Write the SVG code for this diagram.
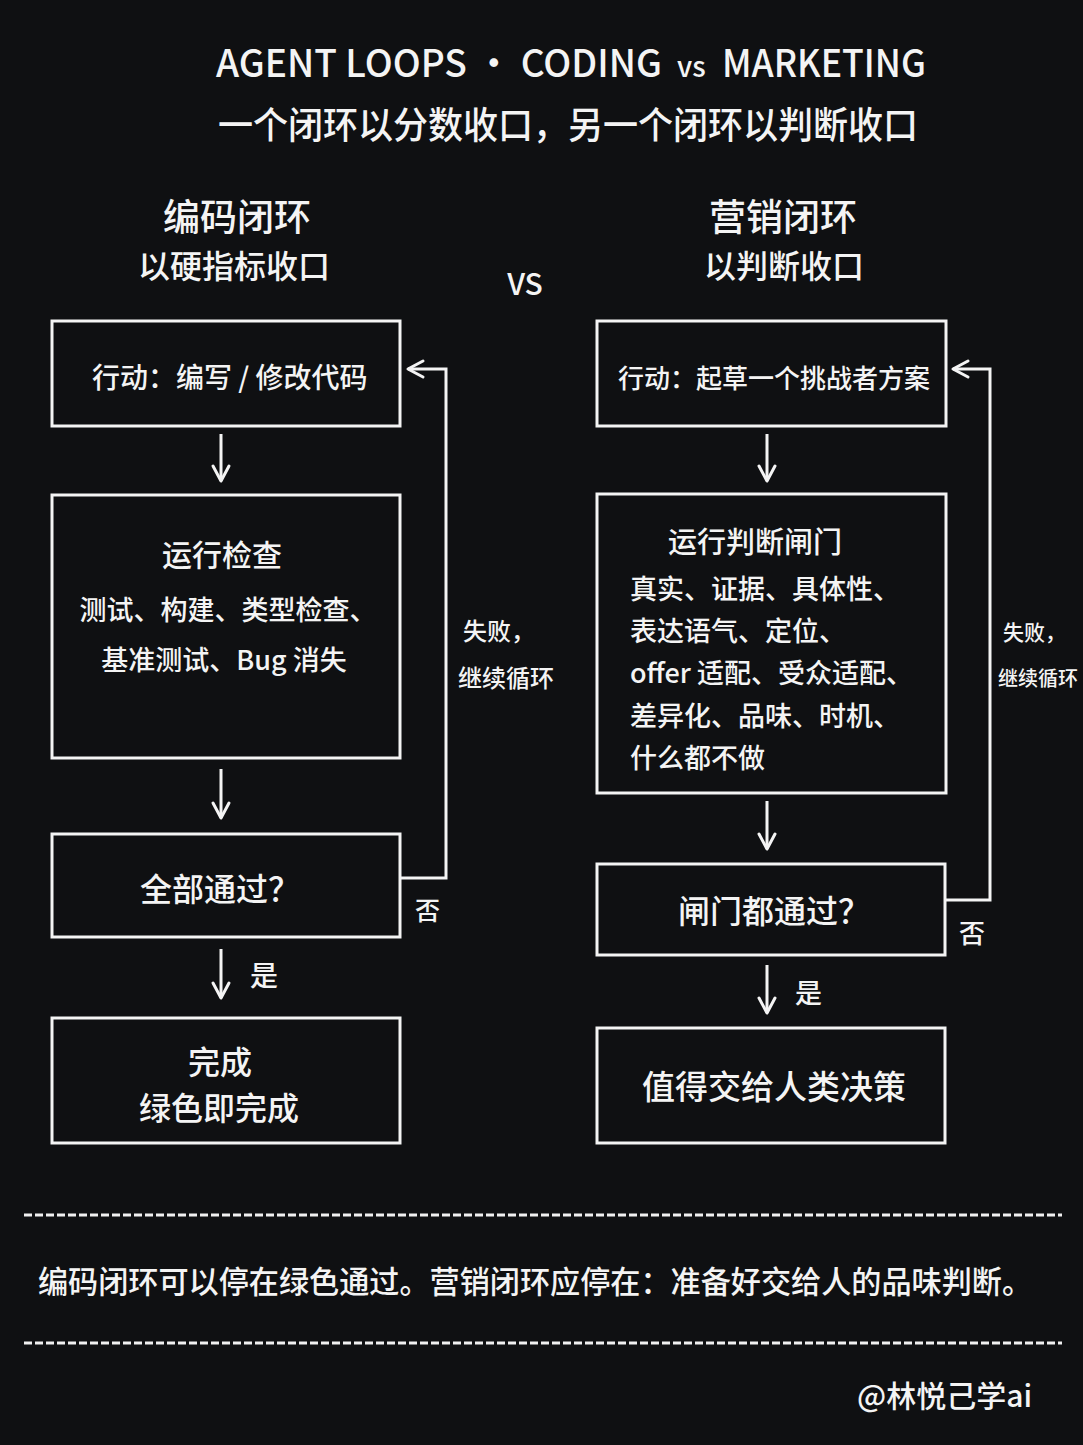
<svg xmlns="http://www.w3.org/2000/svg" width="1083" height="1445" viewBox="0 0 1083 1445">
  <style>
    .t { font-family: "Noto Sans CJK SC", "Liberation Sans", sans-serif; fill: #f4f4f4; font-weight: 500; }
    .m { text-anchor: middle; }
    .box { fill: none; stroke: #f4f4f4; stroke-width: 3; }
    .ln { fill: none; stroke: #f4f4f4; stroke-width: 3; stroke-linejoin: miter; }
    .dash { stroke: #f0f0f0; stroke-width: 3; stroke-dasharray: 8 3; }
  </style>
  <defs>
    <marker id="ah" viewBox="0 0 22 22" refX="19" refY="11" markerWidth="22" markerHeight="22" markerUnits="userSpaceOnUse" orient="auto">
      <path d="M4,3 L19,11 L4,19" fill="none" stroke="#f4f4f4" stroke-width="3" stroke-linecap="round" stroke-linejoin="round"/>
    </marker>
  </defs>
  <rect width="1083" height="1445" fill="#0f1012"/>

  <g id="title">
    <text class="t" x="216" y="77" font-size="38" textLength="446" lengthAdjust="spacingAndGlyphs">AGENT LOOPS · CODING</text>
    <text class="t" x="677" y="77" font-size="28">vs</text>
    <text class="t" x="722" y="77" font-size="38" textLength="204" lengthAdjust="spacingAndGlyphs">MARKETING</text>
    <text class="t m" x="568" y="139" font-size="37" textLength="700" lengthAdjust="spacingAndGlyphs">一个闭环以分数收口，另一个闭环以判断收口</text>
  </g>

  <g id="headers">
    <text class="t m" x="237" y="231" font-size="37">编码闭环</text>
    <text class="t m" x="234" y="278" font-size="32">以硬指标收口</text>
    <text class="t m" x="525" y="295" font-size="30">VS</text>
    <text class="t m" x="783" y="231" font-size="37">营销闭环</text>
    <text class="t m" x="784" y="278" font-size="32">以判断收口</text>
  </g>

  <g id="connectors">
    <line class="ln" x1="221" y1="434" x2="221" y2="481" marker-end="url(#ah)"/>
    <line class="ln" x1="221" y1="769" x2="221" y2="818" marker-end="url(#ah)"/>
    <line class="ln" x1="221" y1="949" x2="221" y2="998" marker-end="url(#ah)"/>
    <path class="ln" d="M400,878 H446 V369 H408" marker-end="url(#ah)"/>
    <line class="ln" x1="767" y1="434" x2="767" y2="481" marker-end="url(#ah)"/>
    <line class="ln" x1="767" y1="801" x2="767" y2="849" marker-end="url(#ah)"/>
    <line class="ln" x1="767" y1="965" x2="767" y2="1013" marker-end="url(#ah)"/>
    <path class="ln" d="M946,900 H990 V369 H953" marker-end="url(#ah)"/>
    <text class="t" x="250" y="986" font-size="28">是</text>
    <text class="t" x="415" y="920" font-size="25">否</text>
    <text class="t" x="463" y="640" font-size="24">失败，</text>
    <text class="t" x="458" y="687" font-size="24">继续循环</text>
    <text class="t" x="795" y="1003" font-size="27">是</text>
    <text class="t" x="959" y="943" font-size="26">否</text>
    <text class="t" x="1003" y="640" font-size="21">失败，</text>
    <text class="t" x="998" y="686" font-size="20">继续循环</text>
  </g>

  <g id="code-action">
    <rect class="box" x="52" y="321" width="348" height="105"/>
    <text class="t" x="92" y="388" font-size="28">行动：编写 / 修改代码</text>
  </g>
  <g id="code-check">
    <rect class="box" x="52" y="495" width="348" height="263"/>
    <text class="t m" x="222" y="566" font-size="30">运行检查</text>
    <text class="t m" x="228" y="620" font-size="27">测试、构建、类型检查、</text>
    <text class="t m" x="224" y="670" font-size="27">基准测试、Bug 消失</text>
  </g>
  <g id="code-pass">
    <rect class="box" x="52" y="834" width="348" height="103"/>
    <text class="t m" x="220" y="901" font-size="32">全部通过？</text>
  </g>
  <g id="code-done">
    <rect class="box" x="52" y="1018" width="348" height="125"/>
    <text class="t m" x="220" y="1074" font-size="32">完成</text>
    <text class="t m" x="219" y="1120" font-size="32">绿色即完成</text>
  </g>

  <g id="mkt-action">
    <rect class="box" x="597" y="321" width="349" height="105"/>
    <text class="t" x="618" y="388" font-size="26">行动：起草一个挑战者方案</text>
  </g>
  <g id="mkt-gates">
    <rect class="box" x="597" y="494" width="349" height="299"/>
    <text class="t" x="668" y="553" font-size="29">运行判断闸门</text>
    <text class="t" x="630" y="599" font-size="27">真实、证据、具体性、</text>
    <text class="t" x="630" y="641" font-size="27">表达语气、定位、</text>
    <text class="t" x="630" y="683" font-size="27">offer 适配、受众适配、</text>
    <text class="t" x="630" y="726" font-size="27">差异化、品味、时机、</text>
    <text class="t" x="630" y="768" font-size="27">什么都不做</text>
  </g>
  <g id="mkt-pass">
    <rect class="box" x="597" y="864" width="348" height="91"/>
    <text class="t m" x="774" y="923" font-size="32">闸门都通过？</text>
  </g>
  <g id="mkt-done">
    <rect class="box" x="597" y="1028" width="348" height="115"/>
    <text class="t m" x="774" y="1099" font-size="33">值得交给人类决策</text>
  </g>

  <g id="footer">
    <line class="dash" x1="24" y1="1215" x2="1062" y2="1215"/>
    <text class="t" x="38" y="1293" font-size="31" textLength="994" lengthAdjust="spacingAndGlyphs">编码闭环可以停在绿色通过。营销闭环应停在：准备好交给人的品味判断。</text>
    <line class="dash" x1="24" y1="1343" x2="1062" y2="1343"/>
    <text class="t" x="857" y="1407" font-size="30">@林悦己学ai</text>
  </g>
</svg>
